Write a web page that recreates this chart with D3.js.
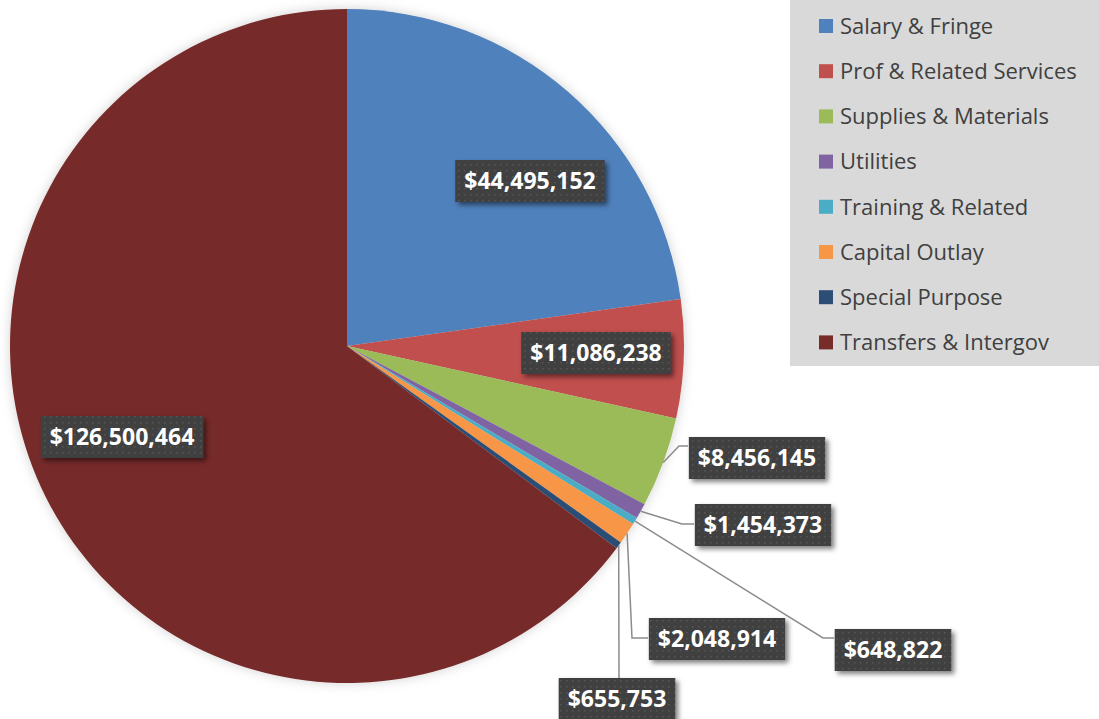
<!DOCTYPE html>
<html>
<head>
<meta charset="utf-8">
<script src="https://cdn.jsdelivr.net/npm/d3@7"></script>
<style>
  html, body { margin: 0; padding: 0; background: #ffffff; }
  svg { display: block; }
</style>
</head>
<body>
<svg id="chart" width="1099" height="719"></svg>
<script>
// ---- Data ----
const categories = ["Salary & Fringe", "Prof & Related Services", "Supplies & Materials", "Utilities",
                    "Training & Related", "Capital Outlay", "Special Purpose", "Transfers & Intergov"];
const values = [44495152, 11086238, 8456145, 1454373, 648822, 2048914, 655753, 126500464];
const colors = ["#4f81bd", "#c0504d", "#9bbb59", "#8064a2", "#4bacc6", "#f79646", "#2c4d75", "#772c2a"];

// ---- Layout (label placement) ----
const labelCenters = [[530, 181], [596, 353], [757, 458], [763, 525], [893, 650], [717, 639], [617, 699], [122, 437]];
// leader lines: null = inside; otherwise [elbow, end]
const leaders = [null, null, [[679, 446], [688, 446]], [[682, 524], [694, 524]],
                 [[823, 638], [834, 638]], [[632, 638], [648, 638]], [[619, 678], [619, 678]], null];

const svg = d3.select("#chart");
const cx = 347, cy = 346, R = 337;

const defs = svg.append("defs");
const pf = defs.append("filter").attr("id", "pieShadow").attr("x", "-10%").attr("y", "-10%").attr("width", "120%").attr("height", "120%");
pf.append("feDropShadow").attr("dx", 0).attr("dy", 0).attr("stdDeviation", 6).attr("flood-color", "#000").attr("flood-opacity", 0.18);
const bf = defs.append("filter").attr("id", "boxShadow").attr("x", "-20%").attr("y", "-30%").attr("width", "140%").attr("height", "170%");
bf.append("feDropShadow").attr("dx", 3).attr("dy", 3).attr("stdDeviation", 2.5).attr("flood-color", "#000").attr("flood-opacity", 0.5);
const pat = defs.append("pattern").attr("id", "dots").attr("patternUnits", "userSpaceOnUse").attr("width", 6).attr("height", 6);
pat.append("rect").attr("width", 6).attr("height", 6).attr("fill", "#3f3f3f");
pat.append("rect").attr("x", 2).attr("y", 2).attr("width", 1.5).attr("height", 1.5).attr("fill", "#575757");

const data = categories.map((c, i) => ({ name: c, value: values[i], color: colors[i], i }));
const pie = d3.pie().value(d => d.value).sort(null);
const arcs = pie(data);
const arc = d3.arc().innerRadius(0).outerRadius(R);
const edgeArc = d3.arc().innerRadius(R).outerRadius(R);

const g = svg.append("g").attr("transform", `translate(${cx},${cy})`);
g.append("g").attr("filter", "url(#pieShadow)")
  .selectAll("path").data(arcs).join("path")
  .attr("d", arc).attr("fill", d => d.data.color);

// leader lines
const fmt = d3.format("$,");
arcs.forEach((a, i) => {
  const L = leaders[i];
  if (!L) return;
  const s = edgeArc.centroid(a);
  const pts = [[cx + s[0], cy + s[1]], L[0], L[1]];
  svg.append("path").attr("d", d3.line()(pts)).attr("fill", "none")
    .attr("stroke", "#8c8c8c").attr("stroke-width", 1.5);
});

// labels
arcs.forEach((a, i) => {
  const [lx, ly] = labelCenters[i];
  const lg = svg.append("g");
  const rect = lg.append("rect").attr("fill", "url(#dots)").attr("filter", "url(#boxShadow)");
  const t = lg.append("text").attr("x", lx).attr("y", ly).attr("text-anchor", "middle").attr("dy", "0.36em")
    .attr("font-family", "'Open Sans', sans-serif").attr("font-weight", 700).attr("font-size", 23)
    .attr("fill", "#ffffff").text(fmt(a.data.value));
  const tw = t.node().getComputedTextLength();
  const bw = tw + 18, bh = 42;
  rect.attr("x", lx - bw / 2).attr("y", ly - bh / 2).attr("width", bw).attr("height", bh);
});

// legend
const lgX = 790, lgY = 0, lgW = 309, lgH = 366;
const legend = svg.append("g");
legend.append("rect").attr("x", lgX).attr("y", lgY).attr("width", lgW).attr("height", lgH).attr("fill", "#d9d9d9");
const ly0 = 26, lstep = 45.2;
categories.forEach((c, i) => {
  const y = ly0 + i * lstep;
  legend.append("rect").attr("x", 819).attr("y", y - 7).attr("width", 14).attr("height", 14).attr("fill", colors[i]);
  legend.append("text").attr("x", 840).attr("y", y).attr("dy", "0.35em")
    .attr("font-family", "'Open Sans', sans-serif").attr("font-size", 22).attr("fill", "#404040").text(c);
});
</script>
</body>
</html>
